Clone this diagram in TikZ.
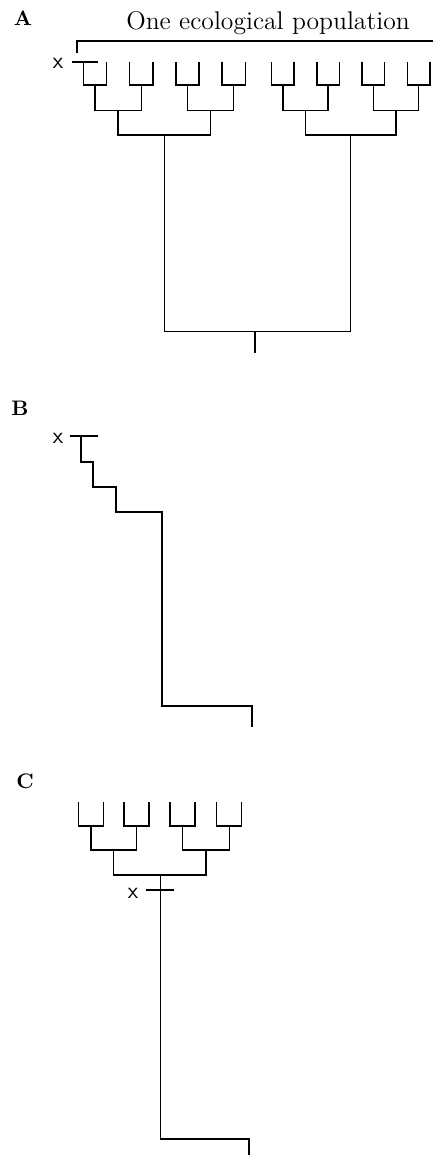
\documentclass[tikz,border=0pt]{standalone}
\usetikzlibrary{positioning}

\begin{document}
\begin{tikzpicture}[x=0.5pt,y=-0.5pt]
    \tikzset{treeline/.style={line width=0.7pt},
      cutmark/.style={line width=1.4pt},
      popbracket/.style={line width=1.3pt},
      panellabel/.style={anchor=base,inner sep=0pt,font=\fontsize{10.5}{12}\selectfont\bfseries},
      xlbl/.style={inner sep=0pt,font=\fontsize{11.5}{12}\selectfont\sffamily}}
    \useasboundingbox (0,0) rectangle (433,1155);
    % A
    \node[panellabel] (labA) at (23,26) {A};
    \node[anchor=base,inner sep=0pt,font=\fontsize{12.8}{15}\selectfont] (poptitle) at (268,30) {One ecological population};
    \coordinate (brl) at (77,53);
    \coordinate (brc) at (77,41);
    \coordinate (brr) at (433,41);
    \draw[popbracket] (brl) -- (brc) -- (brr);
    \foreach \x [count=\i] in {83.5,106.6,129.7,152.8,175.9,199.0,222.1,245.2,271.5,294.15,316.8,339.45,362.1,384.75,407.4,430.05}
      \coordinate (la\i) at (\x,62);
    \foreach \x [count=\i] in {95.05,141.25,187.45,233.65,282.8,328.1,373.4,418.7}
      \coordinate (ca\i) at (\x,85);
    \foreach \x [count=\i] in {118.15,210.55,305.45,396.05}
      \coordinate (da\i) at (\x,110.5);
    \coordinate (ea1) at (164.35,135);
    \coordinate (ea2) at (350.75,135);
    \coordinate (ra) at (255,331.5);
    \coordinate (sa) at (255,353);
    \foreach \p/\l/\r in {1/1/2,2/3/4,3/5/6,4/7/8,5/9/10,6/11/12,7/13/14,8/15/16}
      \draw[treeline] (la\l) |- (ca\p) -| (la\r);
    \foreach \p/\l/\r in {1/1/2,2/3/4,3/5/6,4/7/8}
      \draw[treeline] (ca\l) |- (da\p) -| (ca\r);
    \draw[treeline] (da1) |- (ea1) -| (da2);
    \draw[treeline] (da3) |- (ea2) -| (da4);
    \draw[treeline] (ea1) |- (ra) -| (ea2);
    \draw[treeline] (ra) -- (sa);
    \node[xlbl] (xa) at (58,63) {x};
    \coordinate (xal) at (72,62);
    \coordinate (xar) at (98,62);
    \draw[cutmark] (xal) -- (xar);
    % B
    \node[panellabel] (labB) at (20,415) {B};
    \node[xlbl] (xb) at (58,438) {x};
    \coordinate (xbl) at (70,436);
    \coordinate (xbr) at (98,436);
    \draw[cutmark] (xbl) -- (xbr);
    \coordinate (lb) at (81,436);
    \coordinate (b1) at (93,462);
    \coordinate (b2) at (116,487);
    \coordinate (b3) at (162,512);
    \coordinate (b4) at (252,706);
    \coordinate (sb) at (252,727);
    \draw[treeline] (lb) |- (b1) |- (b2) |- (b3) |- (b4) -- (sb);
    % C
    \node[panellabel] (labC) at (25,788) {C};
    \foreach \x [count=\i] in {78.3,103.3,124,149,170,195,216.7,241.7}
      \coordinate (lc\i) at (\x,802);
    \foreach \x [count=\i] in {90.8,136.5,182.5,229.2}
      \coordinate (cc\i) at (\x,826);
    \coordinate (dc1) at (113.7,850);
    \coordinate (dc2) at (205.9,850);
    \coordinate (ec) at (160.5,875);
    \coordinate (rc) at (249,1139);
    \coordinate (sc) at (249,1155);
    \foreach \p/\l/\r in {1/1/2,2/3/4,3/5/6,4/7/8}
      \draw[treeline] (lc\l) |- (cc\p) -| (lc\r);
    \draw[treeline] (cc1) |- (dc1) -| (cc2);
    \draw[treeline] (cc3) |- (dc2) -| (cc4);
    \draw[treeline] (dc1) |- (ec) -| (dc2);
    \draw[treeline] (ec) |- (rc) -- (sc);
    \node[xlbl] (xc) at (133,893) {x};
    \coordinate (xcl) at (146,890);
    \coordinate (xcr) at (174,890);
    \draw[cutmark] (xcl) -- (xcr);
  \end{tikzpicture}
\end{document}
